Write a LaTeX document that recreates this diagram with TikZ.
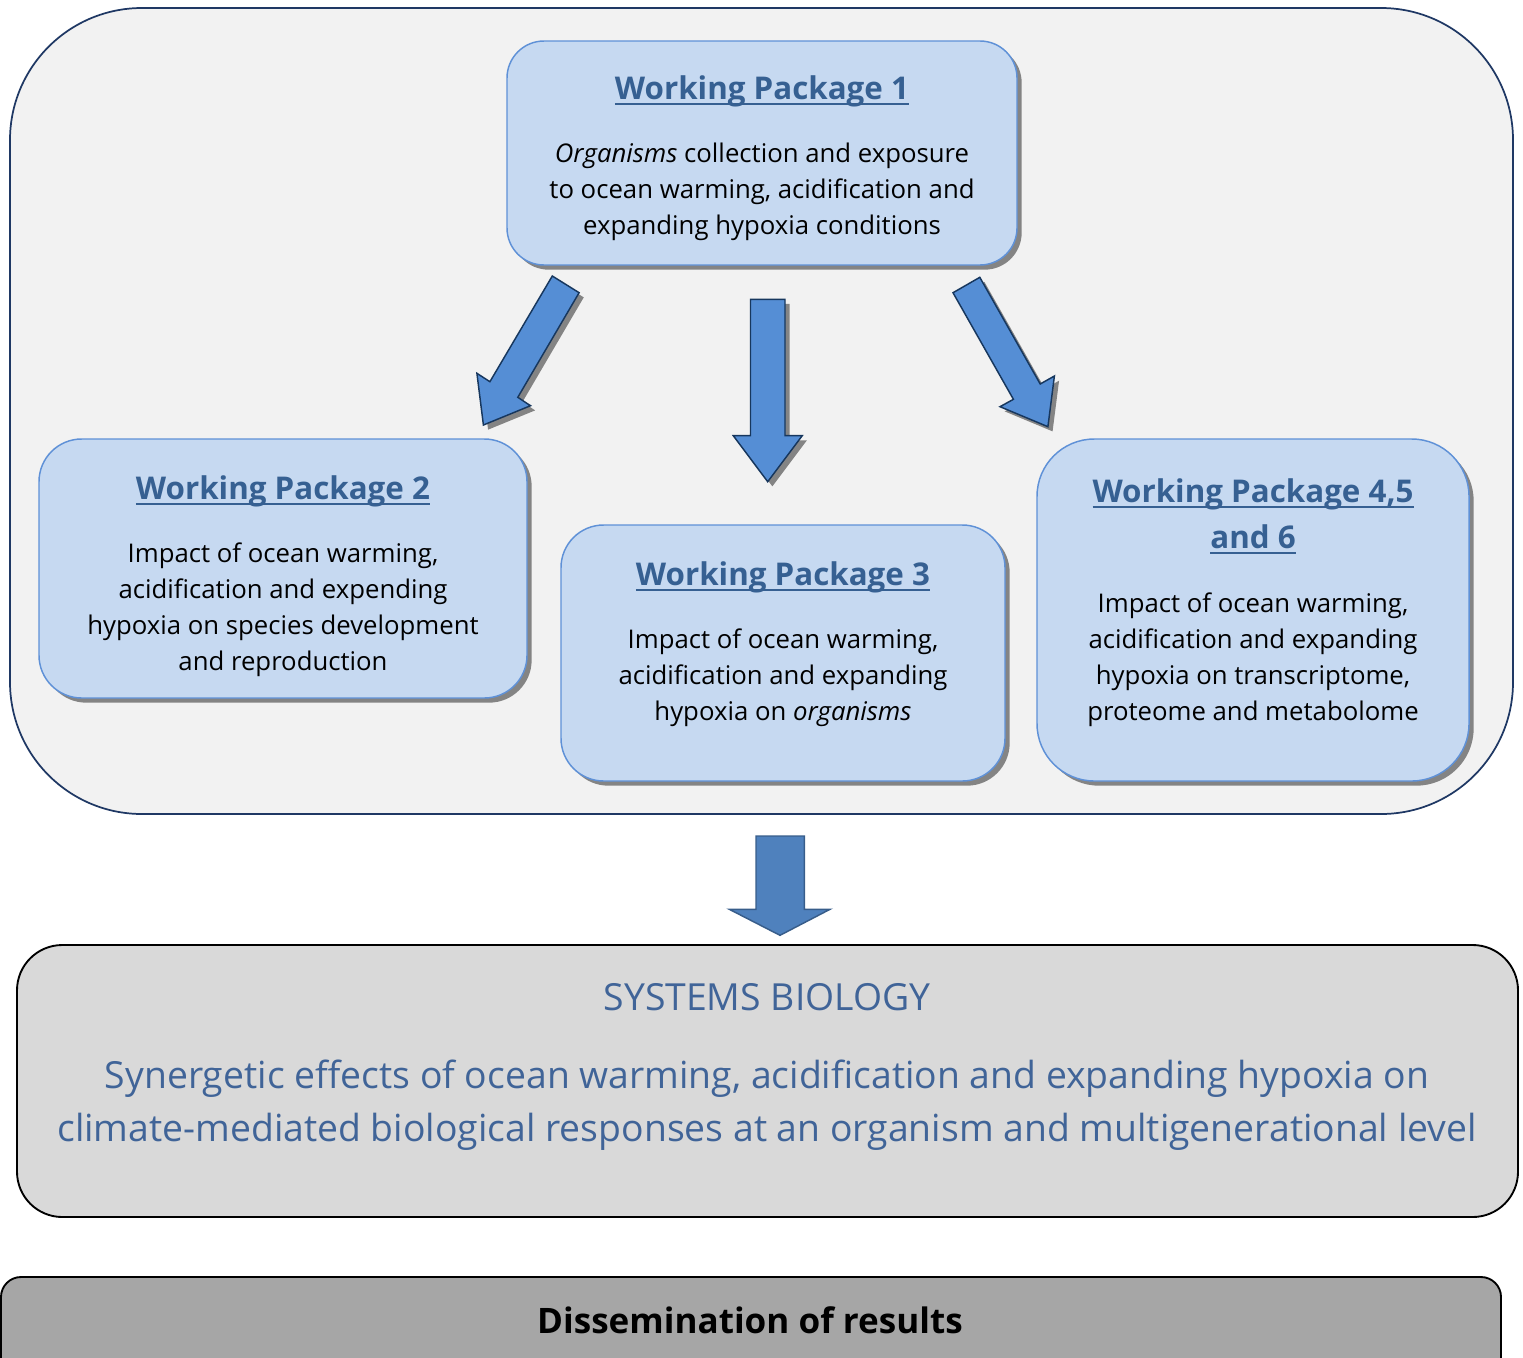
\documentclass[tikz,border=0pt]{standalone}
\usepackage{fontspec}
\setmainfont{Open Sans}
\usetikzlibrary{shadows}
\definecolor{outerbg}{RGB}{242,242,242}
\definecolor{navy}{RGB}{31,56,100}
\definecolor{wpfill}{RGB}{198,217,241}
\definecolor{wpborder}{RGB}{95,145,215}
\definecolor{titleblue}{RGB}{54,96,146}
\definecolor{arrowfill}{RGB}{85,142,213}
\definecolor{arrowborder}{RGB}{23,55,94}
\definecolor{bigarrowfill}{RGB}{79,129,189}
\definecolor{bigarrowborder}{RGB}{56,93,138}
\definecolor{sysfill}{RGB}{217,217,217}
\definecolor{sysblue}{RGB}{64,100,152}
\definecolor{dissfill}{RGB}{166,166,166}
\newcommand\wpul[1]{\setbox0\hbox{#1}\rlap{\rule[-0.18em]{\wd0}{0.07em}}\box0}
\tikzset{
  boxshadow/.style={drop shadow={shadow xshift=3.5pt,shadow yshift=-3.5pt,fill=black,opacity=0.45}},
  wpbox/.style={draw=wpborder,line width=1.1pt,fill=wpfill,boxshadow,inner sep=0pt},
  wptitle/.style={text=titleblue,font=\fontsize{23.5}{34.5}\selectfont\bfseries,align=center},
  wptext/.style={text=black,font=\fontsize{19.3}{27}\selectfont,align=center},
  blockarrow/.style={draw=arrowborder,line width=1.1pt,fill=arrowfill,line join=miter,
    drop shadow={shadow xshift=3.5pt,shadow yshift=-3.5pt,fill=black,opacity=0.45}},
}
\begin{document}
\begin{tikzpicture}[x=0.75pt,y=-0.75pt]
\useasboundingbox (0,0) rectangle (1523,1357);
% outer frame
\node[draw=navy,line width=1.3pt,fill=outerbg,rounded corners=99pt,minimum width=1127.25pt,minimum height=604.5pt,inner sep=0pt] (outer) at (761.5,411) {};
% working package boxes
\node[wpbox,rounded corners=27.75pt,minimum width=382.5pt,minimum height=168pt] (wp1) at (762,153) {};
\node[wpbox,rounded corners=32pt,minimum width=366pt,minimum height=194.25pt] (wp2) at (283,568.5) {};
\node[wpbox,rounded corners=32pt,minimum width=333pt,minimum height=192pt] (wp3) at (783,653) {};
\node[wpbox,rounded corners=43pt,minimum width=324pt,minimum height=256.5pt] (wp4) at (1253,610) {};
% texts
\node[wptitle] (wp1t) at (762,91) {\wpul{Working Package 1}};
\node[wptext] (wp1b) at (762,192) {\textit{Organisms} collection and exposure\\to ocean warming, acidification and\\expanding hypoxia conditions};
\node[wptitle] (wp2t) at (283,491) {\wpul{Working Package 2}};
\node[wptext] (wp2b) at (283,610) {Impact of ocean warming,\\acidification and expending\\hypoxia on species development\\and reproduction};
\node[wptitle] (wp3t) at (783,577) {\wpul{Working Package 3}};
\node[wptext] (wp3b) at (783,678) {Impact of ocean warming,\\acidification and expanding\\hypoxia on \textit{organisms}};
\node[wptitle] (wp4t) at (1253,516.5) {\wpul{Working Package 4,5}\\\wpul{and 6}};
\node[wptext] (wp4b) at (1253,660) {Impact of ocean warming,\\acidification and expanding\\hypoxia on transcriptome,\\proteome and metabolome};
% block arrows from WP1
\draw[blockarrow] (552.3,276) -- (579.1,292.7) -- (517.8,397.3) -- (530.5,405.7) -- (483.4,425) -- (476.9,373.3) -- (489.9,381.7) -- cycle;
\draw[blockarrow] (750.5,299.3) -- (785,299.3) -- (785,435.7) -- (802.2,435.7) -- (767.7,481.7) -- (733.3,435.7) -- (750.5,435.7) -- cycle;
\draw[blockarrow] (979.8,277.3) -- (953,292.7) -- (1013.4,399.3) -- (1000,406.7) -- (1047.9,426.7) -- (1054.4,376) -- (1040.2,384) -- cycle;
% arrow down to systems biology
\draw[draw=bigarrowborder,line width=1.1pt,fill=bigarrowfill] (756,836) -- (804.3,836) -- (804.3,909.3) -- (830,909.3) -- (780,935.3) -- (729.3,909.3) -- (756,909.3) -- cycle;
% systems biology
\node[draw=black,line width=1.4pt,fill=sysfill,rounded corners=34pt,minimum width=1125.75pt,minimum height=204pt,inner sep=0pt] (sys) at (767.5,1081) {};
\node[text=sysblue,font=\fontsize{28}{40}\selectfont] (syst) at (767,997) {SYSTEMS BIOLOGY};
\node[text=sysblue,font=\fontsize{28}{39.75}\selectfont,align=center] (sysb) at (767,1105.5) {Synergetic effects of ocean warming, acidification and expanding hypoxia on\\climate-mediated biological responses at an organism and multigenerational level};
% dissemination
\node[draw=black,line width=1.4pt,fill=dissfill,rounded corners=15pt,minimum width=1125pt,minimum height=91.5pt,inner sep=0pt] (diss) at (751,1338) {};
\node[font=\fontsize{26.3}{34}\selectfont\bfseries] (disst) at (750,1320) {Dissemination of results};
\end{tikzpicture}
\end{document}
